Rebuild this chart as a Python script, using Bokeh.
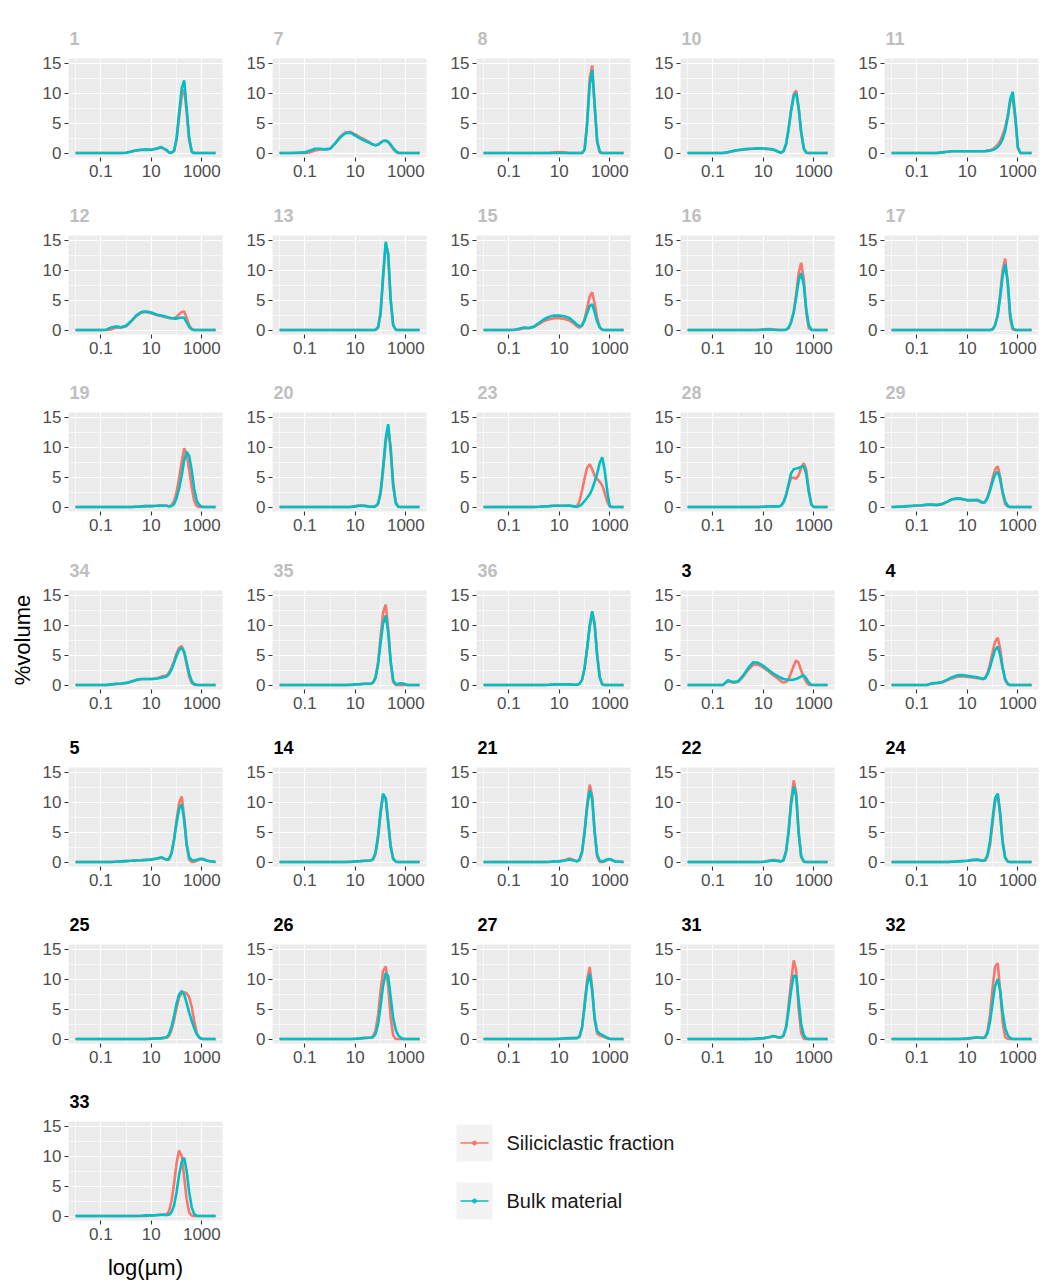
from bokeh.plotting import figure
from bokeh.layouts import row, column
from bokeh.models import Range1d, FixedTicker, NumeralTickFormatter
from bokeh.core.properties import value
from bokeh.embed import file_html
from bokeh.resources import INLINE

# particle size classes (µm)
SIZES_UM = [0.01, 0.03, 0.1, 0.16, 0.25, 0.4, 0.63, 1, 1.6, 2.5, 4, 6.3, 10, 16, 25, 40,
            50, 63, 80, 100, 125, 160, 200, 250, 315, 400, 500, 630, 800, 1000, 1250, 1600, 3500]

PANELS = ["1", "7", "8", "10", "11", "12", "13", "15", "16", "17", "19", "20", "23", "28", "29",
          "34", "35", "36", "3", "4", "5", "14", "21", "22", "24", "25", "26", "27", "31", "32", "33"]
GREY_TITLES = ["1", "7", "8", "10", "11", "12", "13", "15", "16", "17", "19", "20", "23", "28", "29", "34", "35", "36"]

X_TICKS = [0.1, 10, 1000]
Y_TICKS = [0, 5, 10, 15]
SERIES_NAMES = ["Siliciclastic fraction", "Bulk material"]

SIL_1  = [0,0,0,0,0,0,0, 0.05,0.2,0.4,0.5,0.55,0.5,0.7,0.9,0.45, 0.1,0.05,0.3,2.2,5.8,9.6,10.6,6.8,2.2, 0.15,0,0,0,0,0,0,0]
BULK_1 = [0,0,0,0,0,0,0, 0.05,0.25,0.45,0.55,0.6,0.55,0.75,1.0,0.5, 0.1,0.05,0.4,2.5,6.5,10.8,12.1,7.5,2.5, 0.2,0,0,0,0,0,0,0]
SIL_7  = [0,0,0,0.1,0.4,0.6,0.6, 0.7,1.6,2.7,3.4,3.5,3.1,2.6,2.2,1.7, 1.4,1.3,1.4,1.7,2.0,2.0,1.8,1.3,0.7, 0.2,0,0,0,0,0,0,0]
BULK_7 = [0,0,0.1,0.4,0.7,0.7,0.6, 0.7,1.6,2.6,3.3,3.4,2.9,2.4,2.0,1.6, 1.4,1.3,1.4,1.7,2.0,2.1,1.9,1.4,0.8, 0.3,0.05,0,0,0,0,0,0]
SIL_8  = [0,0,0,0,0,0,0, 0,0,0,0,0.1,0.15,0.1,0,0, 0,0,0,0.6,5.0,12.5,14.6,8.0,1.8, 0.1,0,0,0,0,0,0,0]
BULK_8 = [0,0,0,0,0,0,0, 0,0,0,0,0,0,0,0,0, 0,0,0,0.5,4.5,11.5,13.8,8.0,2.0, 0.2,0,0,0,0,0,0,0]
SIL_10  = [0,0,0,0,0,0.1,0.3, 0.45,0.55,0.65,0.7,0.75,0.7,0.65,0.55,0.2, 0.05,0.3,1.5,4.0,7.0,9.8,10.4,7.6,3.4, 0.7,0.05,0,0,0,0,0,0]
BULK_10 = [0,0,0,0,0,0.15,0.35, 0.5,0.6,0.7,0.75,0.8,0.75,0.7,0.6,0.2, 0.05,0.3,1.5,4.0,7.0,9.5,10.0,7.5,3.5, 0.8,0.05,0,0,0,0,0,0]
SIL_11  = [0,0,0,0,0,0,0, 0.1,0.2,0.3,0.3,0.3,0.3,0.3,0.3,0.3, 0.3,0.4,0.5,0.6,0.9,1.4,2.0,3.0,4.2, 6.3,8.5,9.0,5.5,0.8,0,0,0]
BULK_11 = [0,0,0,0,0,0,0, 0.1,0.2,0.3,0.3,0.3,0.3,0.3,0.3,0.3, 0.3,0.35,0.4,0.5,0.7,1.0,1.5,2.3,3.7, 6.0,9.0,10.2,6.0,1.0,0,0,0]
SIL_12  = [0,0,0,0,0.1,0.4,0.4, 0.6,1.4,2.3,2.9,3.0,2.8,2.5,2.3,2.1, 2.0,1.9,2.0,2.2,2.6,3.0,3.1,2.0,0.8, 0.15,0,0,0,0,0,0,0]
BULK_12 = [0,0,0,0.05,0.4,0.6,0.45, 0.7,1.5,2.4,3.0,3.1,2.9,2.6,2.4,2.2, 2.1,2.0,1.9,1.9,2.0,2.1,2.0,1.3,0.5, 0.1,0,0,0,0,0,0,0]
SIL_13  = [0,0,0,0,0,0,0, 0,0,0,0,0,0,0,0,0, 0,0,0.4,2.6,8.5,14.3,12.8,5.2,0.8, 0,0,0,0,0,0,0,0]
BULK_13 = [0,0,0,0,0,0,0, 0,0,0,0,0,0,0,0,0, 0,0.05,0.5,3.0,9.0,14.7,12.5,5.0,0.8, 0.05,0,0,0,0,0,0,0]
SIL_15  = [0,0,0,0,0.1,0.3,0.3, 0.5,1.0,1.5,1.8,1.95,1.95,1.85,1.6,1.0, 0.6,0.4,0.7,1.8,3.6,5.6,6.3,4.4,2.0, 0.5,0.05,0,0,0,0,0,0]
BULK_15 = [0,0,0,0.05,0.2,0.4,0.35, 0.6,1.2,1.8,2.2,2.4,2.4,2.3,2.0,1.3, 0.9,0.6,0.8,1.6,2.8,4.0,4.3,3.0,1.4, 0.4,0.05,0,0,0,0,0,0]
SIL_16  = [0,0,0,0,0,0,0, 0,0,0,0,0,0.1,0.15,0.1,0, 0,0,0.05,0.3,1.2,3.0,6.0,9.5,11.2, 8.5,3.0,0.3,0,0,0,0,0]
BULK_16 = [0,0,0,0,0,0,0, 0,0,0,0,0,0.05,0.1,0.05,0, 0,0,0.05,0.4,1.3,3.0,5.5,8.2,9.5, 7.5,3.5,0.8,0.05,0,0,0,0]
SIL_17  = [0,0,0,0,0,0,0, 0,0,0,0,0,0,0,0,0, 0,0,0,0.1,0.7,2.5,6.0,10.0,11.9, 7.5,1.8,0.1,0,0,0,0,0]
BULK_17 = [0,0,0,0,0,0,0, 0,0,0,0,0,0,0,0,0, 0,0,0.02,0.1,0.8,2.5,5.5,9.0,11.0, 8.0,2.5,0.3,0,0,0,0,0]
SIL_19  = [0,0,0,0,0,0,0, 0,0,0.05,0.1,0.15,0.15,0.2,0.25,0.2, 0.1,0.3,1.0,2.5,4.8,7.5,9.8,8.8,6.2, 3.2,1.0,0.15,0,0,0,0,0]
BULK_19 = [0,0,0,0,0,0,0, 0,0,0.05,0.1,0.15,0.15,0.2,0.25,0.2, 0.1,0.15,0.5,1.5,3.0,5.3,7.8,9.2,8.5, 6.0,3.0,1.0,0.3,0.05,0,0,0]
SIL_20  = [0,0,0,0,0,0,0, 0,0,0,0,0,0.15,0.3,0.2,0.05, 0.05,0.1,0.5,2.2,6.0,10.8,13.2,10.0,4.0, 0.8,0.05,0,0,0,0,0,0]
BULK_20 = [0,0,0,0,0,0,0, 0,0,0,0,0,0.1,0.2,0.15,0.05, 0.05,0.1,0.6,2.5,6.5,11.5,13.8,9.5,3.5, 0.6,0.05,0,0,0,0,0,0]
SIL_23  = [0,0,0,0,0,0,0, 0,0.05,0.1,0.15,0.2,0.2,0.2,0.2,0.05, 0.1,1.0,2.8,4.8,6.5,7.1,6.3,5.2,4.7, 4.2,3.6,2.3,0.8,0.05,0,0,0]
BULK_23 = [0,0,0,0,0,0,0, 0,0.05,0.1,0.15,0.2,0.2,0.2,0.25,0.1, 0.02,0.15,0.5,1.0,1.5,2.1,3.0,4.2,5.6, 7.4,8.3,6.0,2.5,0.1,0,0,0]
SIL_28  = [0,0,0,0,0,0,0, 0,0,0,0,0,0.05,0.1,0.1,0.1, 0.2,0.8,2.0,3.6,4.8,4.9,4.7,5.3,6.5, 7.3,6.2,2.8,0.4,0,0,0,0]
BULK_28 = [0,0,0,0,0,0,0, 0,0,0,0,0,0.05,0.1,0.1,0.1, 0.2,0.8,2.0,3.8,5.6,6.3,6.4,6.5,6.7, 6.8,5.5,2.5,0.4,0,0,0,0]
SIL_29  = [0,0.05,0.2,0.25,0.35,0.35,0.3, 0.45,0.85,1.25,1.4,1.3,1.1,1.1,1.1,0.7, 0.8,1.6,3.1,4.8,6.2,6.8,5.0,2.3,0.5, 0.05,0,0,0,0,0,0,0]
BULK_29 = [0,0.1,0.25,0.3,0.4,0.4,0.35, 0.5,0.9,1.3,1.45,1.35,1.15,1.15,1.2,0.75, 0.8,1.5,2.8,4.2,5.4,5.9,4.6,2.5,0.9, 0.2,0,0,0,0,0,0,0]
SIL_34  = [0,0,0,0,0.05,0.15,0.2, 0.3,0.55,0.8,0.95,1.0,1.0,1.1,1.4,1.6, 2.0,2.9,4.0,5.3,6.2,6.5,5.4,3.4,1.4, 0.3,0.05,0,0,0,0,0,0]
BULK_34 = [0,0,0,0,0.1,0.2,0.25, 0.35,0.6,0.85,1.0,1.0,1.0,1.05,1.2,1.4, 1.8,2.6,3.7,4.9,5.8,6.2,5.5,3.8,1.9, 0.6,0.15,0.05,0,0,0,0,0]
SIL_35  = [0,0,0,0,0,0,0, 0,0,0,0,0,0.1,0.15,0.2,0.2, 0.4,1.2,3.8,8.0,12.0,13.4,9.5,3.8,0.5, 0,0,0,0,0,0,0,0]
BULK_35 = [0,0,0,0,0,0,0, 0,0,0,0,0.05,0.1,0.15,0.2,0.2, 0.4,1.2,3.5,7.0,10.2,11.6,8.8,4.0,0.8, 0.1,0.2,0.3,0.25,0.1,0,0,0]
SIL_36  = [0,0,0,0,0,0,0, 0,0,0,0.05,0.1,0.1,0.1,0.1,0.05, 0.05,0.2,0.9,2.8,6.0,9.6,12.1,10.3,5.0, 1.3,0.1,0,0,0,0,0,0]
BULK_36 = [0,0,0,0,0,0,0, 0,0,0,0.05,0.1,0.1,0.1,0.1,0.05, 0.05,0.2,0.9,2.8,6.0,10.0,12.3,10.0,4.8, 1.2,0.1,0,0,0,0,0,0]
SIL_3  = [0,0,0,0,0,0.6,0.4, 0.5,1.4,2.5,3.4,3.4,2.9,2.3,1.6,1.0, 0.6,0.4,0.5,1.0,2.0,3.2,4.1,3.7,2.4, 1.3,0.5,0.05,0,0,0,0,0]
BULK_3 = [0,0,0,0,0,0.8,0.5, 0.6,1.6,2.8,3.8,3.7,3.2,2.5,1.9,1.4, 1.2,1.0,0.9,0.85,0.85,0.9,1.0,1.2,1.45, 1.6,1.1,0.4,0.05,0,0,0,0]
SIL_4  = [0,0,0,0,0,0.2,0.3, 0.4,0.8,1.1,1.4,1.45,1.35,1.25,1.15,0.95, 1.1,2.0,3.6,5.5,7.2,7.9,6.0,3.0,0.8, 0.1,0,0,0,0,0,0,0]
BULK_4 = [0,0,0,0,0,0.3,0.35, 0.5,0.9,1.3,1.6,1.65,1.55,1.4,1.3,1.05, 1.1,1.8,3.0,4.5,5.8,6.4,5.0,2.8,1.0, 0.2,0,0,0,0,0,0,0]
SIL_5  = [0,0,0,0,0,0.05,0.1, 0.15,0.2,0.25,0.3,0.35,0.4,0.55,0.7,0.35, 0.4,1.4,3.8,7.0,9.8,10.9,7.5,2.8,0.4, 0,0.05,0.2,0.4,0.5,0.45,0.2,0]
BULK_5 = [0,0,0,0,0,0.05,0.1, 0.15,0.2,0.25,0.3,0.35,0.4,0.6,0.8,0.4, 0.5,1.5,3.8,6.5,8.8,9.6,7.0,3.0,0.8, 0.3,0.3,0.35,0.5,0.55,0.4,0.2,0]
SIL_14  = [0,0,0,0,0,0,0, 0,0,0,0,0,0.1,0.15,0.2,0.25, 0.4,1.3,4.0,8.0,11.0,10.6,6.8,2.8,0.6, 0.05,0,0,0,0,0,0,0]
BULK_14 = [0,0,0,0,0,0,0, 0,0,0,0,0.05,0.1,0.15,0.2,0.25, 0.5,1.6,4.5,8.5,11.4,10.6,6.5,2.5,0.5, 0.05,0,0,0,0,0,0,0]
SIL_21  = [0,0,0,0,0,0,0, 0,0,0,0,0.1,0.15,0.3,0.6,0.3, 0.1,0.3,1.6,5.0,9.5,12.9,11.0,5.0,0.9, 0,0,0.1,0.35,0.45,0.3,0.1,0]
BULK_21 = [0,0,0,0,0,0,0, 0,0,0,0.05,0.1,0.1,0.2,0.4,0.2, 0.1,0.4,1.8,5.0,9.0,12.0,10.5,5.0,1.2, 0.2,0.1,0.25,0.45,0.5,0.3,0.1,0]
SIL_22  = [0,0,0,0,0,0,0, 0,0,0,0,0,0,0.2,0.35,0.2, 0.1,0.3,1.8,5.2,10.2,13.6,11.5,4.8,0.8, 0.05,0,0,0,0,0,0,0]
BULK_22 = [0,0,0,0,0,0,0, 0,0,0,0,0,0.05,0.15,0.25,0.15, 0.1,0.3,1.8,5.0,9.5,12.6,11.0,5.0,1.0, 0.1,0,0,0,0,0,0,0]
SIL_24  = [0,0,0,0,0,0,0, 0,0,0.05,0.1,0.15,0.2,0.3,0.35,0.2, 0.2,0.9,3.0,6.5,10.0,11.3,8.3,3.5,0.7, 0.05,0,0,0,0,0,0,0]
BULK_24 = [0,0,0,0,0,0,0, 0,0,0.05,0.1,0.15,0.2,0.35,0.4,0.2, 0.3,1.2,3.6,7.2,10.6,11.4,7.8,3.2,0.7, 0.1,0,0,0,0,0,0,0]
SIL_25  = [0,0,0,0,0,0,0, 0,0,0,0,0,0.05,0.1,0.1,0.2, 0.5,1.5,3.2,5.2,6.9,7.6,7.8,7.6,7.0, 5.3,3.0,1.0,0.15,0,0,0,0]
BULK_25 = [0,0,0,0,0,0,0, 0,0,0,0,0,0.05,0.1,0.15,0.3, 0.8,2.0,3.9,5.9,7.4,8.0,7.4,6.0,4.4, 3.0,1.8,0.8,0.25,0.05,0,0,0]
SIL_26  = [0,0,0,0,0,0,0, 0,0,0,0,0,0,0.1,0.15,0.2, 0.4,1.4,4.0,8.0,11.3,12.1,8.8,3.6,0.6, 0,0,0,0,0,0,0,0]
BULK_26 = [0,0,0,0,0,0,0, 0,0,0,0,0,0.05,0.1,0.2,0.25, 0.3,0.8,2.5,5.5,8.8,11.0,10.5,7.0,3.5, 1.5,0.6,0.2,0,0,0,0,0]
SIL_27  = [0,0,0,0,0,0,0, 0,0,0,0,0,0,0.1,0.1,0.15, 0.15,0.4,2.0,5.8,9.8,12.0,8.5,3.2,0.9, 0.6,0.5,0.3,0.1,0,0,0,0]
BULK_27 = [0,0,0,0,0,0,0, 0,0,0,0,0,0.05,0.1,0.15,0.15, 0.15,0.4,2.0,5.5,9.0,10.9,8.0,3.5,1.3, 0.9,0.7,0.45,0.2,0.05,0,0,0]
SIL_31  = [0,0,0,0,0,0,0, 0,0,0,0,0,0.1,0.25,0.45,0.25, 0.2,0.5,2.0,5.5,9.6,13.1,11.5,5.0,1.0, 0.05,0,0,0,0,0,0,0]
BULK_31 = [0,0,0,0,0,0,0, 0,0,0,0.05,0.1,0.15,0.3,0.5,0.3, 0.3,0.6,2.0,4.8,8.0,10.6,10.4,6.5,2.5, 0.6,0.1,0,0,0,0,0,0]
SIL_32  = [0,0,0,0,0,0,0, 0,0,0,0,0,0,0.15,0.25,0.15, 0.2,1.2,4.2,8.5,12.0,12.6,8.0,2.8,0.3, 0,0,0,0,0,0,0,0]
BULK_32 = [0,0,0,0,0,0,0, 0,0,0,0,0.05,0.1,0.2,0.3,0.2, 0.25,1.0,3.0,6.0,8.8,10.0,8.0,4.5,1.8, 0.6,0.15,0,0,0,0,0,0]
SIL_33  = [0,0,0,0,0,0,0, 0,0,0,0,0,0.1,0.15,0.2,0.3, 0.8,2.5,5.5,8.8,10.9,10.0,6.5,2.8,0.6, 0.05,0,0,0,0,0,0,0]
BULK_33 = [0,0,0,0,0,0,0, 0,0,0,0.05,0.1,0.1,0.15,0.2,0.15, 0.2,0.6,1.8,4.0,6.8,9.0,9.7,7.5,4.0, 1.4,0.3,0.05,0,0,0,0,0]

SERIES = {name: (globals()["SIL_" + name], globals()["BULK_" + name]) for name in PANELS}
for k, (a, b) in SERIES.items():
    assert len(a) == len(SIZES_UM) and len(b) == len(SIZES_UM), k

# ---------------- styling ----------------
RED = "#F8766D"
TEAL = "#00BFC4"
FONT = "Liberation Sans"
PANEL_BG = "#EBEBEB"

X_MIN, X_MAX = 10 ** -2.277, 10 ** 3.817
Y_MIN, Y_MAX = -0.75, 15.75

NCOL = 5
FRAME_W, FRAME_H = 154, 99
BL_FIRST, BL, BR, BR_LAST = 68, 32, 18, 3
BT_FIRST, BT = 58, 48
BB, BB_LAST = 30, 66
ROW_H = [BT_FIRST + FRAME_H + BB, 177, 178, 177, 177, 177, BT + FRAME_H + BB_LAST]


def make_panel(idx, name):
    r, c = divmod(idx, NCOL)
    bl = BL_FIRST if c == 0 else BL
    br = BR_LAST if c == NCOL - 1 else BR
    h = ROW_H[r]
    bt = BT_FIRST if r == 0 else BT
    bb = h - bt - FRAME_H
    p = figure(width=bl + FRAME_W + br, height=h, x_axis_type="log",
               x_range=Range1d(X_MIN, X_MAX), y_range=Range1d(Y_MIN, Y_MAX),
               output_backend="svg", toolbar_location=None,
               min_border_left=bl, min_border_right=br, min_border_top=bt, min_border_bottom=bb,
               title=name)
    p.background_fill_color = PANEL_BG
    p.border_fill_color = "white"
    p.outline_line_color = None

    p.title.align = "left"
    p.title.offset = 1
    p.title.standoff = 27
    p.title.text_font = FONT
    p.title.text_font_size = "18px"
    p.title.text_font_style = "bold"
    p.title.text_color = "#BEBEBE" if name in GREY_TITLES else "#000000"

    p.xaxis.ticker = FixedTicker(ticks=X_TICKS, minor_ticks=[0.01, 1, 100])
    p.xaxis.formatter = NumeralTickFormatter(format="0.[00]")
    p.yaxis.ticker = FixedTicker(ticks=Y_TICKS, minor_ticks=[2.5, 7.5, 12.5])

    for ax in (p.xaxis[0], p.yaxis[0]):
        ax.axis_line_color = None
        ax.major_tick_line_color = "#333333"
        ax.major_tick_line_width = 1.1
        ax.major_tick_out = 4
        ax.major_tick_in = 0
        ax.minor_tick_line_color = None
        ax.major_label_text_font = FONT
        ax.major_label_text_font_size = "17px"
        ax.major_label_text_color = "#4D4D4D"
    p.xaxis.major_label_standoff = 3
    p.yaxis.major_label_standoff = 3

    p.grid.grid_line_color = "white"
    p.grid.grid_line_width = 1.2
    p.grid.minor_grid_line_color = "white"
    p.grid.minor_grid_line_width = 0.6

    if r == 3 and c == 0:
        p.yaxis.axis_label = "%volume"
        p.yaxis.axis_label_text_font = FONT
        p.yaxis.axis_label_text_font_size = "22px"
        p.yaxis.axis_label_text_font_style = "normal"
        p.yaxis.axis_label_text_color = "#000000"
        p.yaxis.axis_label_standoff = 5
    if r == 6 and c == 0:
        p.xaxis.axis_label = "log(µm)"
        p.xaxis.axis_label_text_font = FONT
        p.xaxis.axis_label_text_font_size = "22px"
        p.xaxis.axis_label_text_font_style = "normal"
        p.xaxis.axis_label_text_color = "#000000"
        p.xaxis.axis_label_standoff = 12

    sil, bulk = SERIES[name]
    p.line(SIZES_UM, sil, line_color=RED, line_width=2.6)
    p.line(SIZES_UM, bulk, line_color=TEAL, line_width=2.6)
    return p


panels = [make_panel(i, n) for i, n in enumerate(PANELS)]

# legend area (rest of the last row); its frame lines up with the panel frames of that row,
# so its ranges are expressed in pixels of that frame
FIRST_W = BL_FIRST + FRAME_W + BR
TOTAL_W = FIRST_W + 3 * (BL + FRAME_W + BR) + BL + FRAME_W + BR_LAST
LEG_W = TOTAL_W - FIRST_W
LEG_H = ROW_H[6]
lg = figure(width=LEG_W, height=LEG_H, x_range=Range1d(0, LEG_W), y_range=Range1d(0, FRAME_H),
            output_backend="svg", toolbar_location=None,
            min_border_left=0, min_border_right=0, min_border_top=BT, min_border_bottom=BB_LAST,
            x_axis_location=None, y_axis_location=None)
lg.grid.visible = False
lg.outline_line_color = None
lg.background_fill_color = "white"
lg.border_fill_color = "white"

KEY_X, KEY_W, KEY_H = 216, 36, 37
KEY_TOPS = [3, 61]            # distance of each key's top below the frame top
key_bottom = [FRAME_H - t - KEY_H for t in KEY_TOPS]
key_top = [FRAME_H - t for t in KEY_TOPS]
key_mid = [FRAME_H - t - KEY_H / 2 for t in KEY_TOPS]
colors = [RED, TEAL]
lg.quad(left=[KEY_X] * 2, right=[KEY_X + KEY_W] * 2, bottom=key_bottom, top=key_top,
        fill_color="#F2F2F2", line_color=None)
lg.segment(x0=[KEY_X + 4] * 2, y0=key_mid, x1=[KEY_X + KEY_W - 4] * 2, y1=key_mid,
           line_color=colors, line_width=1.6)
lg.scatter(x=[KEY_X + KEY_W / 2] * 2, y=key_mid, marker="circle", size=4,
           fill_color=colors, line_color=colors)
lg.text(x=[KEY_X + KEY_W + 14] * 2, y=key_mid, text=SERIES_NAMES,
        text_font=value(FONT), text_font_size="20px", text_baseline="middle",
        text_align="left", text_color="#1A1A1A")

rows = []
for r in range(7):
    children = panels[r * NCOL:(r + 1) * NCOL]
    if r == 6:
        children = children + [lg]
    rows.append(row(*children, spacing=0))
layout = column(*rows, spacing=0)

open("out.html", "w").write(file_html(layout, INLINE))
